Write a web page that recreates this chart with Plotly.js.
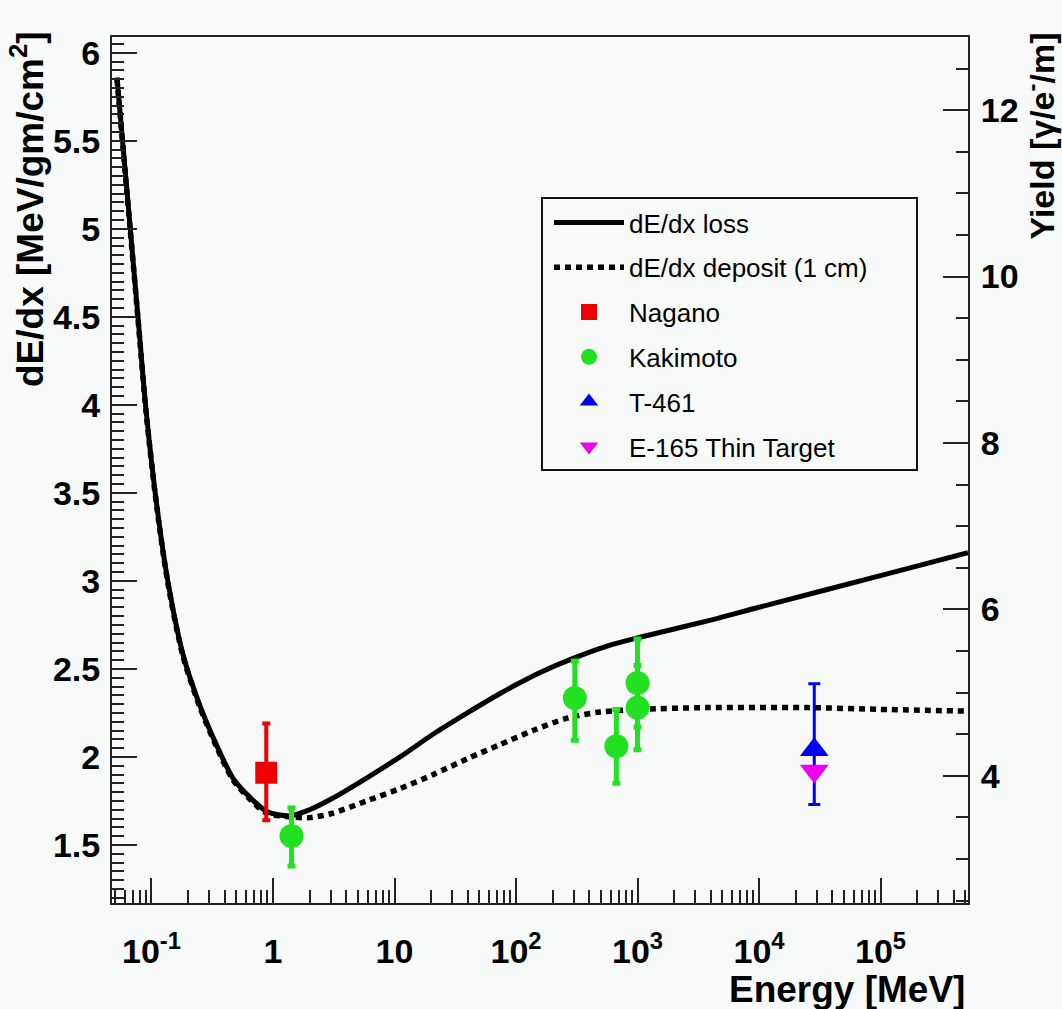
<!DOCTYPE html>
<html><head><meta charset="utf-8">
<script src="https://cdn.plot.ly/plotly-3.0.1.min.js"></script>
<style>html,body{margin:0;padding:0;background:#f7faf8;} #chart{width:1062px;height:1009px;}</style>
</head><body><div id="chart"></div>
<script>
// dE/dx loss curve (MeV, MeV/gm/cm^2)
const lossEnergy = [0.052, 0.0631, 0.0774, 0.0902, 0.111, 0.137, 0.182, 0.251, 0.347, 0.468, 0.646, 0.891, 1.38, 2.0, 3.09, 5.89, 11.1, 20.9, 39.8, 74, 100, 158, 295, 562, 1047, 4170, 10000, 100000, 525000];
const lossDedx   = [5.86, 5.20, 4.50, 3.97, 3.42, 2.99, 2.58, 2.29, 2.06, 1.88, 1.77, 1.69, 1.665, 1.70, 1.765, 1.88, 2.00, 2.13, 2.25, 2.36, 2.41, 2.48, 2.56, 2.63, 2.68, 2.78, 2.85, 3.03, 3.16];
// dE/dx deposit (1 cm) curve
const depEnergy = [0.052, 0.0631, 0.0774, 0.0902, 0.111, 0.137, 0.182, 0.251, 0.347, 0.468, 0.646, 0.891, 1.38, 2.0, 3.09, 5.89, 11.1, 20.9, 39.8, 74, 138, 263, 490, 1047, 3720, 25100, 100000, 513000];
const depDedx   = [5.85, 5.19, 4.49, 3.96, 3.41, 2.98, 2.57, 2.28, 2.05, 1.87, 1.76, 1.68, 1.66, 1.655, 1.68, 1.75, 1.82, 1.90, 1.99, 2.07, 2.15, 2.22, 2.255, 2.27, 2.28, 2.28, 2.27, 2.26];
// measurements
const naganoE = [0.88], naganoV = [1.91], naganoErrUp = [0.28], naganoErrDn = [0.27];
const kakimotoE = [1.42, 305, 670, 1000, 1000];
const kakimotoV = [1.55, 2.335, 2.06, 2.42, 2.28];
const kakimotoErrUp = [0.16, 0.21, 0.21, 0.25, 0.24];
const kakimotoErrDn = [0.17, 0.24, 0.21, 0.25, 0.24];
const t461E = [28500], t461V = [2.04], t461ErrUp = [0.375], t461ErrDn = [0.31];
const e165E = [28500], e165V = [1.92];
// ticks
const xTickVals = [0.1, 1, 10, 100, 1000, 10000, 100000];
const xTickText = ['10<sup>-1</sup>', '1', '10', '10<sup>2</sup>', '10<sup>3</sup>', '10<sup>4</sup>', '10<sup>5</sup>'];

const FONT = 'Liberation Sans, Arial, Helvetica, sans-serif';
const BG = '#f7faf8';
const AX = '#222';

const traces = [
  {x: lossEnergy, y: lossDedx, mode: 'lines', name: 'dE/dx loss', legendgroup: 'a',
   line: {color: '#000', width: 5, shape: 'spline', smoothing: 0.8}},
  {x: depEnergy, y: depDedx, mode: 'lines', name: 'dE/dx deposit (1 cm)', legendgroup: 'b',
   line: {color: '#000', width: 5.5, dash: '6px,5px', shape: 'spline', smoothing: 0.8}},
  {x: naganoE, y: naganoV, mode: 'markers', name: 'Nagano', legendgroup: 'c',
   marker: {symbol: 'square', size: 22, color: '#ee0000'},
   error_y: {type: 'data', symmetric: false, array: naganoErrUp, arrayminus: naganoErrDn, color: '#ee0000', thickness: 4, width: 4}},
  {x: kakimotoE, y: kakimotoV, mode: 'markers', name: 'Kakimoto', legendgroup: 'd',
   marker: {symbol: 'circle', size: 24, color: '#22e022'},
   error_y: {type: 'data', symmetric: false, array: kakimotoErrUp, arrayminus: kakimotoErrDn, color: '#22e022', thickness: 5, width: 4}},
  {x: t461E, y: t461V, mode: 'markers', name: 'T-461', legendgroup: 'e',
   marker: {symbol: 'triangle-up', size: 25, color: '#0000ee'},
   error_y: {type: 'data', symmetric: false, array: t461ErrUp, arrayminus: t461ErrDn, color: '#0000ee', thickness: 3, width: 6}},
  {x: e165E, y: e165V, mode: 'markers', name: 'E-165 Thin Target', legendgroup: 'f',
   marker: {symbol: 'triangle-down', size: 25, color: '#ee00ee'}}
];

const W = 1062, H = 1009, L = 112, R = 94, T = 37, B = 106;
const pw = W - L - R, ph = H - T - B;
const px = v => (v - L) / pw;
const py = v => (H - B - v) / ph;

const tickFont = {family: FONT, size: 34, color: '#000', weight: 700};

const layout = {
  width: W, height: H,
  margin: {l: L, r: R, t: T, b: B, pad: 0},
  paper_bgcolor: BG, plot_bgcolor: BG,
  showlegend: true,
  legend: {x: px(549), y: py(199), xanchor: 'left', yanchor: 'top',
           bgcolor: 'rgba(0,0,0,0)', borderwidth: 0, traceorder: 'grouped', tracegroupgap: 8,
           itemwidth: 70, font: {family: FONT, size: 26, color: '#000'}},
  xaxis: {type: 'log', range: [-1.325, 5.72], showgrid: false, zeroline: false,
          showline: true, linecolor: AX, linewidth: 2, mirror: true,
          ticks: 'inside', ticklen: 25, tickwidth: 2, tickcolor: AX,
          tickmode: 'array', tickvals: xTickVals, ticktext: xTickText,
          ticklabelstandoff: 17, tickfont: tickFont,
          minor: {tickmode: 'linear', dtick: 'D1', ticks: 'inside', ticklen: 13, tickwidth: 2, tickcolor: AX, showgrid: false}},
  yaxis: {range: [1.17, 6.09], dtick: 0.5, tick0: 0, showgrid: false, zeroline: false,
          showline: true, linecolor: AX, linewidth: 2, mirror: false,
          ticks: 'inside', ticklen: 25, tickwidth: 2, tickcolor: AX,
          ticklabelstandoff: 3, tickfont: tickFont,
          minor: {dtick: 0.05, ticks: 'inside', ticklen: 12, tickwidth: 2, tickcolor: AX, showgrid: false}},
  yaxis2: {overlaying: 'y', side: 'right', range: [2.47, 12.88], dtick: 2, tick0: 0,
           showgrid: false, zeroline: false, showline: true, linecolor: AX, linewidth: 2,
           ticks: 'inside', ticklen: 25, tickwidth: 2, tickcolor: AX,
           ticklabelstandoff: 4, tickfont: tickFont,
           minor: {dtick: 0.5, ticks: 'inside', ticklen: 12, tickwidth: 2, tickcolor: AX, showgrid: false}},
  shapes: [
    {type: 'rect', xref: 'paper', yref: 'paper', x0: px(542), x1: px(917), y0: py(470), y1: py(198),
     line: {color: '#111', width: 2}, fillcolor: 'rgba(0,0,0,0)'}
  ],
  annotations: [
    {text: '<b>dE/dx [MeV/gm/cm<sup>2</sup>]</b>', xref: 'paper', yref: 'paper', x: px(28), y: py(29),
     xanchor: 'center', yanchor: 'top', textangle: -90, showarrow: false,
     font: {family: FONT, size: 37, color: '#000'}},
    {text: '<b>Yield [γ/e<sup>-</sup>/m]</b>', xref: 'paper', yref: 'paper', x: px(1039), y: py(31),
     xanchor: 'center', yanchor: 'top', textangle: -90, showarrow: false,
     font: {family: FONT, size: 34, color: '#000'}},
    {text: '<b>Energy [MeV]</b>', xref: 'paper', yref: 'paper', x: px(967), y: py(989),
     xanchor: 'right', yanchor: 'middle', showarrow: false,
     font: {family: FONT, size: 37, color: '#000'}}
  ]
};

// invisible trace binding the right-hand yield axis
traces.push({x: [], y: [], yaxis: 'y2', showlegend: false, hoverinfo: 'skip', mode: 'lines'});

Plotly.newPlot('chart', traces, layout, {displayModeBar: false, staticPlot: true});
</script></body></html>
